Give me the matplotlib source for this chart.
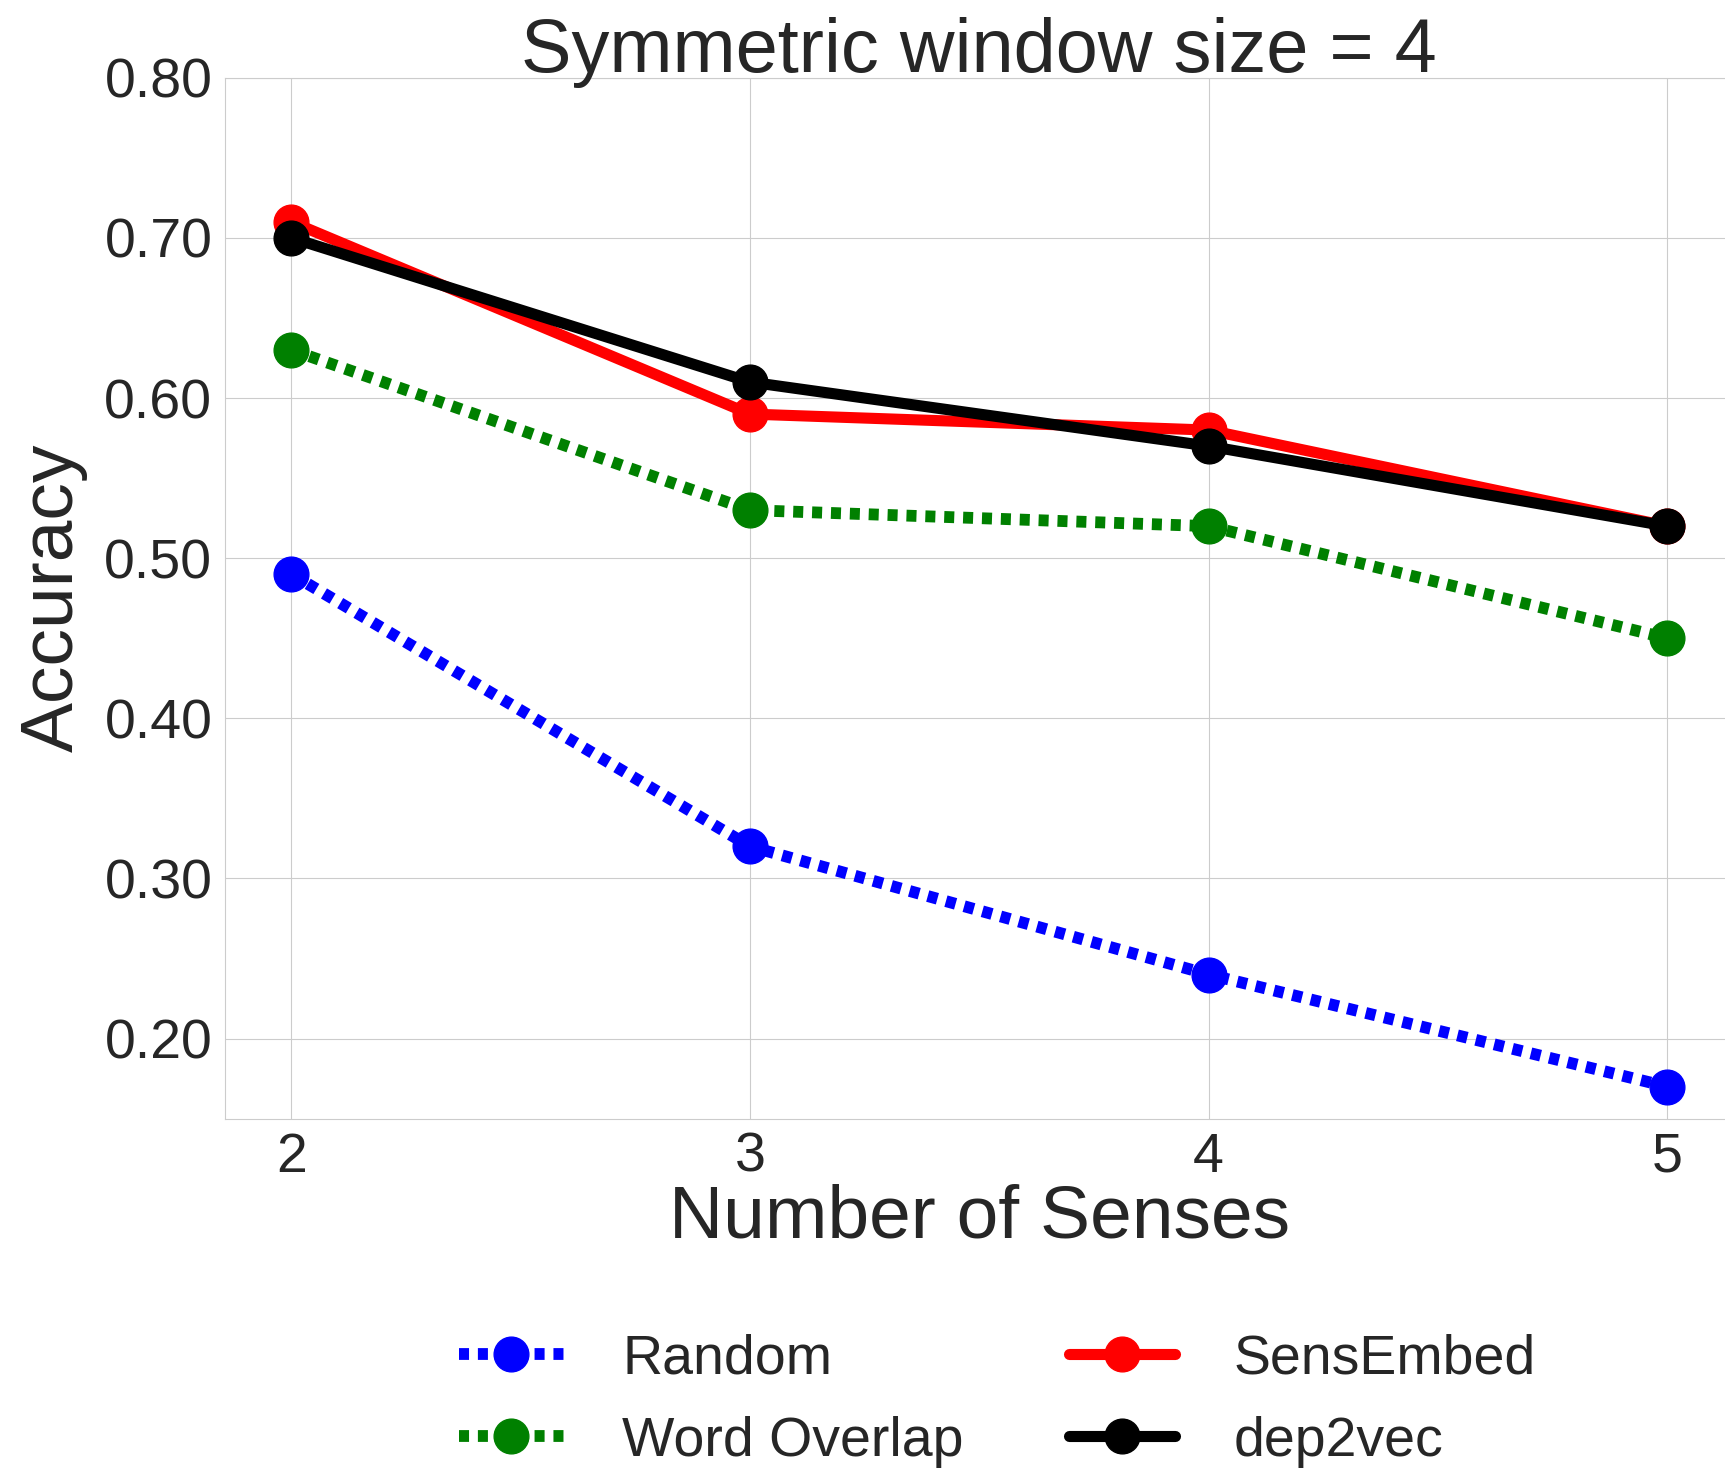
import matplotlib
matplotlib.use('Agg')
import matplotlib.pyplot as plt
import seaborn as sns

senses = [2, 3, 4, 5]
random_acc = [0.49, 0.32, 0.24, 0.17]
overlap_acc = [0.63, 0.53, 0.52, 0.45]
sensembed_acc = [0.71, 0.59, 0.58, 0.52]
dep2vec_acc = [0.70, 0.61, 0.57, 0.52]

sns.set_style('whitegrid')
plt.rcParams['font.family'] = ['Liberation Sans', 'DejaVu Sans']

fig = plt.figure(figsize=(17.25, 14.68), dpi=100)
ax = fig.add_axes([0.1307, 0.238, 0.874, 0.709])

dots = (0.85, 0.75)
ax.plot(senses, random_acc, color='blue', linewidth=8.5, dashes=dots,
        marker='o', markersize=25, label='Random')
ax.plot(senses, overlap_acc, color='green', linewidth=8.5, dashes=dots,
        marker='o', markersize=25, label='Word Overlap')
ax.plot(senses, sensembed_acc, linestyle='-', color='red', linewidth=8,
        marker='o', markersize=25, label='SensEmbed')
ax.plot(senses, dep2vec_acc, linestyle='-', color='black', linewidth=8,
        marker='o', markersize=25, label='dep2vec')

ax.set_xlim(1.856, 5.144)
ax.set_ylim(0.15, 0.80)
ax.set_xticks(senses)
yt = [0.2, 0.3, 0.4, 0.5, 0.6, 0.7, 0.8]
ax.set_yticks(yt)
ax.set_yticklabels(['%.2f' % v for v in yt])
ax.tick_params(labelsize=40, colors='.15', pad=6)

ax.set_title('Symmetric window size = 4', fontsize=54.5, color='.15', pad=4)
ax.set_xlabel('Number of Senses', fontsize=54, color='.15', labelpad=0)
ax.set_ylabel('Accuracy', fontsize=54, color='.15', labelpad=12)

fig.legend(loc='upper center', bbox_to_anchor=(0.578, 0.126),
           ncol=2, fontsize=40, frameon=False, handlelength=1.9,
           columnspacing=1.9, handletextpad=1.05, labelspacing=0.55)

fig.savefig('out.png', dpi=100)
